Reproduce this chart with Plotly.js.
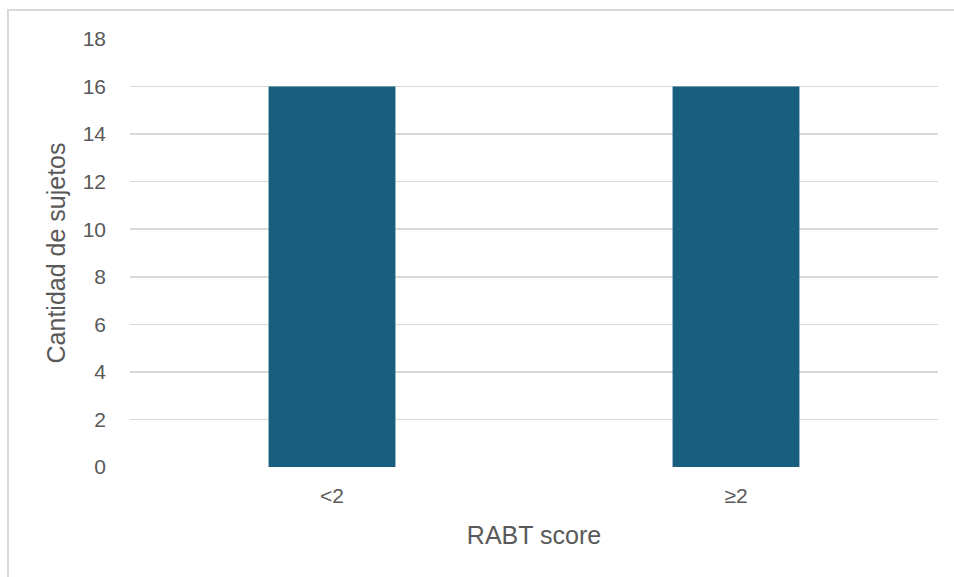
<!DOCTYPE html>
<html>
<head>
<meta charset="utf-8">
<script src="https://cdn.plot.ly/plotly-3.0.1.min.js"></script>
<style>
  html, body { margin: 0; padding: 0; background: #ffffff; }
  #wrap { position: relative; width: 954px; height: 577px; }
  #chart { position: absolute; left: 0; top: 0; width: 954px; height: 577px; }
  #frame { position: absolute; left: 7px; top: 9px; width: 947px; height: 568px;
           border-top: 2px solid #d9d9d9; border-left: 2px solid #d9d9d9; box-sizing: border-box; pointer-events: none; }
</style>
</head>
<body>
<div id="wrap">
  <div id="chart"></div>
  <div id="frame"></div>
</div>
<script>
const categories = ["<2", "≥2"];
const counts = [16, 16];
const yTicks = [0, 2, 4, 6, 8, 10, 12, 14, 16, 18];
const xTitle = "RABT score";
const yTitle = "Cantidad de sujetos";

const fontFamily = "'Liberation Sans', Arial, sans-serif";

const trace = {
  type: "bar",
  x: categories,
  y: counts,
  marker: { color: "#185f7f", line: { width: 0 } },
  hoverinfo: "x+y"
};

const layout = {
  width: 954,
  height: 577,
  margin: { l: 130, r: 16, t: 39, b: 110 },
  paper_bgcolor: "rgba(0,0,0,0)",
  plot_bgcolor: "#ffffff",
  bargap: 0.686,
  showlegend: false,
  font: { family: fontFamily, color: "#595959", size: 21 },
  xaxis: {
    type: "category",
    showgrid: false,
    zeroline: false,
    showline: false,
    ticks: "",
    ticklabelstandoff: 14,
    tickfont: { size: 21, color: "#595959" },
    title: { text: xTitle, font: { size: 25, color: "#595959" }, standoff: 20 }
  },
  yaxis: {
    range: [0, 18],
    tickvals: yTicks,
    ticktext: yTicks.map(String),
    showgrid: true,
    gridcolor: "#d9d9d9",
    gridwidth: 1.6,
    zeroline: false,
    showline: false,
    ticks: "",
    ticklabelstandoff: 23,
    tickfont: { size: 21, color: "#595959" },
    title: { text: yTitle, font: { size: 25, color: "#595959" }, standoff: 9 }
  }
};

Plotly.newPlot("chart", [trace], layout, { displayModeBar: false, staticPlot: true });
</script>
</body>
</html>
